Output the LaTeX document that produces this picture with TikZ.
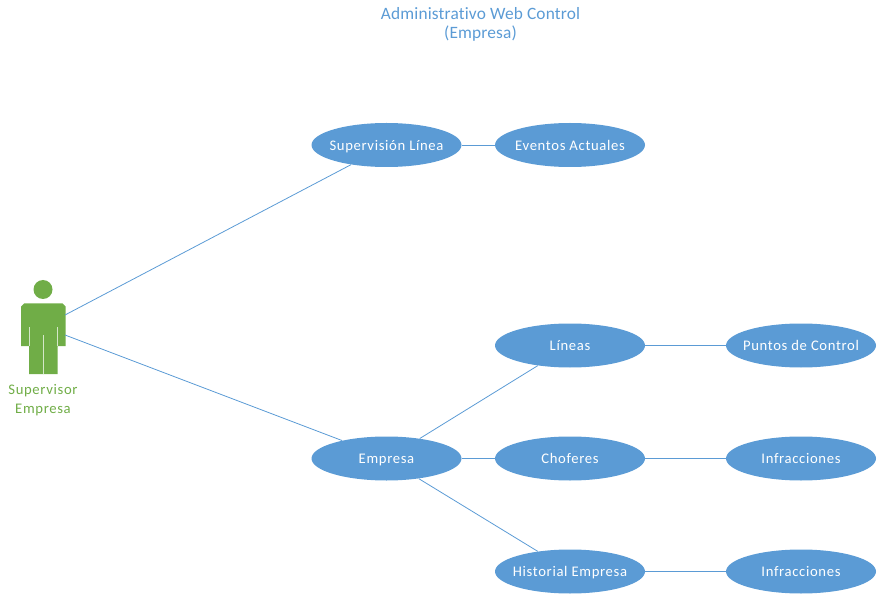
\documentclass[tikz,border=0pt]{standalone}
\usepackage{fontspec}
\setmainfont{Carlito}[Ligatures=NoCommon]
\newfontfamily\labelfont{Carlito}[LetterSpace=4.5, Ligatures=NoCommon]
\newfontfamily\titlefont{Carlito}[LetterSpace=1, Ligatures=NoCommon]
\usepackage{xcolor}
\definecolor{officeblue}{HTML}{5B9BD5}
\definecolor{officegreen}{HTML}{70AD47}
\usetikzlibrary{positioning, shapes.geometric}
\newcommand{\casetext}[1]{\makebox[0pt]{#1}}
\tikzset{
    usecase/.style={ellipse, fill=officeblue, text=white, inner sep=0pt, minimum width=112.5pt, minimum height=33pt, text height=8pt, text depth=0pt, font=\labelfont\fontsize{11}{13}\selectfont},
    link/.style={officeblue, line width=0.6pt},
    actorlabel/.style={text=officegreen, align=center, font=\labelfont\fontsize{11}{14.5}\selectfont}
}

\begin{document}
\begin{tikzpicture}[x=0.75pt, y=-0.75pt]
    \useasboundingbox (0, 0) rectangle (878, 595);
    \node[text=officeblue, align=center, font=\titlefont\fontsize{13}{14.5}\selectfont] (title) at (480.5, 24.5) {Administrativo Web Control\\(Empresa)};
    % actor
    \fill[officegreen] (43, 289.5) circle (9.5);
    \fill[officegreen] (24, 303.5) -- (62.5, 303.5) -- (65.5, 306.5) -- (65.5, 346) -- (57.5, 346) -- (57.5, 374) -- (29, 374) -- (29, 346) -- (21, 346) -- (21, 306.5) -- cycle;
    \draw[white!70!officegreen, line width=0.6pt] (29.5, 327) -- (29.5, 346);
    \draw[white!70!officegreen, line width=0.6pt] (57, 327) -- (57, 346);
    \draw[white!70!officegreen, line width=0.6pt] (43.3, 335) -- (43.3, 374);
    \node[actorlabel] (supervisor) at (43, 400) {Supervisor\\Empresa};
    \coordinate (actor-upper) at (65, 315);
    \coordinate (actor-lower) at (65, 335);
    % use cases
    \node[usecase] (sup-linea) at (386.5, 145) {\casetext{Supervisión Línea}};
    \node[usecase] (eventos) at (570, 145) {\casetext{Eventos Actuales}};
    \node[usecase] (empresa) at (386.5, 458.5) {\casetext{Empresa}};
    \node[usecase] (lineas) at (570, 345.5) {\casetext{Líneas}};
    \node[usecase] (choferes) at (570, 458.5) {\casetext{Choferes}};
    \node[usecase] (historial) at (570, 571.5) {\casetext{Historial Empresa}};
    \node[usecase] (puntos) at (801, 345.5) {\casetext{Puntos de Control}};
    \node[usecase] (infra-a) at (801, 458.5) {\casetext{Infracciones}};
    \node[usecase] (infra-b) at (801, 571.5) {\casetext{Infracciones}};
    % connectors
    \draw[link] (actor-upper) -- (sup-linea.209);
    \draw[link] (actor-lower) -- (empresa.158);
    \draw[link] (empresa.31) -- (lineas.212);
    \draw[link] (empresa.-32) -- (historial.148);
    \foreach \from/\to in {sup-linea/eventos, empresa/choferes, lineas/puntos, choferes/infra-a, historial/infra-b}
        \draw[link] (\from) -- (\to);
\end{tikzpicture}
\end{document}
